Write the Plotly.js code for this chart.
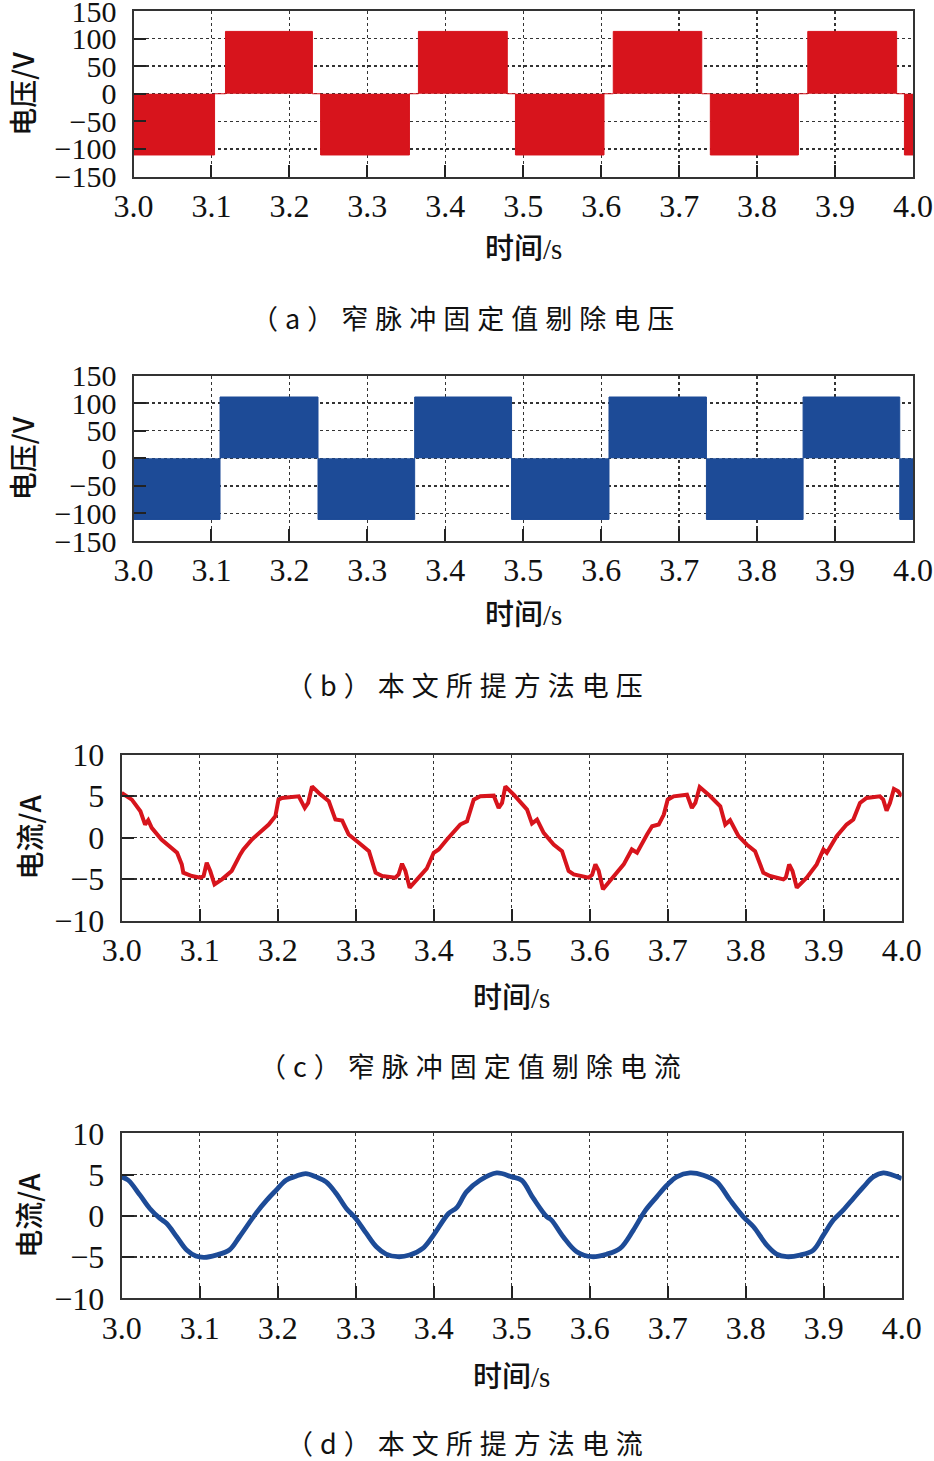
<!DOCTYPE html>
<html>
<head>
<meta charset="utf-8">
<script src="https://cdn.plot.ly/plotly-3.0.1.min.js"></script>
<style>
  html, body { margin: 0; padding: 0; background: #fff; }
  #chart { width: 934px; height: 1461px; }
</style>
</head>
<body>
<div id="chart"></div>
<script>
// (a) switching instants and levels after each switch
var voltA_t = [3.000, 3.104, 3.118, 3.2295, 3.240, 3.354, 3.3655, 3.4795, 3.490, 3.6036,
               3.6155, 3.729, 3.740, 3.853, 3.865, 3.979, 3.989, 4.000];
var voltA_v = [-111, 0, 113, 0, -111, 0, 113, 0, -111, 0,
               113, 0, -111, 0, 113, 0, -111, -111];

// (b)
var voltB_t = [3.000, 3.111, 3.2367, 3.3607, 3.485, 3.610, 3.735, 3.859, 3.983, 4.000];
var voltB_v = [-111, 111, -111, 111, -111, 111, -111, 111, -111, -111];

// (c) current with fixed-value narrow pulse removal
var curC_t = [3.000, 3.013, 3.024, 3.030, 3.034, 3.0385, 3.051, 3.066, 3.071, 3.077,
              3.079, 3.090, 3.1006, 3.105, 3.109, 3.1135, 3.119, 3.1285, 3.141, 3.152,
              3.156, 3.167, 3.180, 3.1885, 3.197, 3.201, 3.2056, 3.227, 3.2347, 3.239,
              3.244, 3.2527, 3.2655, 3.274, 3.2827, 3.291, 3.304, 3.317, 3.3255, 3.334,
              3.351, 3.355, 3.3594, 3.3637, 3.3692, 3.3786, 3.391, 3.400, 3.4064, 3.417,
              3.434, 3.4427, 3.4513, 3.4598, 3.477, 3.4833, 3.4876, 3.4919, 3.5026, 3.5197,
              3.526, 3.5325, 3.541, 3.5538, 3.5645, 3.573, 3.5795, 3.5987, 3.6031, 3.6073,
              3.6115, 3.617, 3.6308, 3.6436, 3.654, 3.6607, 3.6735, 3.680, 3.6885, 3.695,
              3.700, 3.7077, 3.7247, 3.731, 3.7354, 3.741, 3.7546, 3.7674, 3.7738, 3.780,
              3.7908, 3.8013, 3.812, 3.8226, 3.8313, 3.8484, 3.8514, 3.8557, 3.860, 3.8655,
              3.8782, 3.891, 3.8996, 3.904, 3.9166, 3.9294, 3.938, 3.9465, 3.955, 3.972,
              3.9763, 3.9806, 3.9849, 3.990, 3.9955, 4.000];
var curC_v = [5.36, 4.56, 3.16, 1.56, 2.08, 1.16, -0.24, -1.44, -1.84, -3.24,
              -4.24, -4.64, -4.84, -4.64, -3.04, -4.04, -5.64, -5.04, -4.04, -2.04,
              -1.44, -0.24, 0.76, 1.56, 2.56, 4.56, 4.76, 4.96, 3.56, 4.16,
              6.16, 5.36, 4.36, 2.16, 2.04, 0.36, -0.64, -1.64, -4.24, -4.64,
              -4.84, -4.44, -3.16, -4.04, -6.04, -5.04, -3.76, -1.84, -1.44, -0.24,
              1.56, 1.96, 4.56, 4.96, 5.04, 3.56, 4.16, 6.16, 5.16, 3.36,
              1.68, 2.16, 0.56, -0.84, -1.64, -4.04, -4.44, -4.84, -4.5, -3.24,
              -4.0, -6.24, -4.64, -3.24, -1.44, -1.84, 0.36, 1.36, 1.56, 2.76,
              4.56, 4.96, 5.16, 3.56, 4.16, 6.08, 4.96, 3.76, 1.56, 2.08,
              0.16, -0.84, -1.64, -4.24, -4.64, -5.04, -4.84, -3.24, -4.04, -6.04,
              -4.84, -3.24, -1.44, -1.84, 0.16, 1.56, 2.16, 4.16, 4.76, 4.96,
              4.56, 3.24, 4.16, 5.84, 5.56, 4.96];

// (d) current with the proposed method
var curD_t = [3.000, 3.0085, 3.0235, 3.036, 3.049, 3.0577, 3.0705, 3.0833, 3.095, 3.106,
              3.121, 3.138, 3.151, 3.1726, 3.186, 3.198, 3.2107, 3.2235, 3.236, 3.249,
              3.262, 3.275, 3.288, 3.300, 3.3137, 3.3265, 3.339, 3.354, 3.369, 3.386,
              3.3997, 3.419, 3.4295, 3.442, 3.4594, 3.4808, 3.500, 3.5128, 3.5278, 3.5449,
              3.551, 3.566, 3.5833, 3.603, 3.622, 3.639, 3.656, 3.671, 3.686, 3.699,
              3.7115, 3.7286, 3.7457, 3.7628, 3.780, 3.797, 3.810, 3.827, 3.8397, 3.8526,
              3.8697, 3.8868, 3.8996, 3.9124, 3.925, 3.938, 3.951, 3.9637, 3.9765, 3.989,
              4.000];
var curD_v = [4.72, 4.31, 2.5, 0.89, -0.32, -0.93, -2.54, -4.15, -4.88, -5.04,
              -4.76, -4.15, -2.54, 0.36, 1.9, 3.1, 4.31, 4.8, 5.12, 4.72,
              4.11, 2.7, 0.89, -0.32, -2.14, -3.75, -4.64, -4.96, -4.76, -3.95,
              -2.34, 0.28, 1.0, 2.9, 4.31, 5.2, 4.72, 4.31, 2.1, -0.12,
              -0.52, -2.54, -4.35, -4.96, -4.64, -3.95, -1.73, 0.6, 2.3, 3.7,
              4.72, 5.2, 4.92, 4.11, 1.9, -0.12, -1.33, -3.55, -4.64, -4.96,
              -4.76, -4.15, -2.34, -0.52, 0.69, 2.1, 3.5, 4.72, 5.2, 4.92,
              4.51];

var xTickVals = [3.0, 3.1, 3.2, 3.3, 3.4, 3.5, 3.6, 3.7, 3.8, 3.9, 4.0];
var xTickText = ['3.0', '3.1', '3.2', '3.3', '3.4', '3.5', '3.6', '3.7', '3.8', '3.9', '4.0'];
var voltTicks = [-150, -100, -50, 0, 50, 100, 150];
var curTicks = [-10, -5, 0, 5, 10];

var captions = ['（a）窄脉冲固定值剔除电压', '（b）本文所提方法电压',
                '（c）窄脉冲固定值剔除电流', '（d）本文所提方法电流'];
var yTitles = ['电压/V', '电压/V', '电流/A', '电流/A'];

var RED = '#d7141c';
var BLUE = '#1d4b97';
var W = 934, H = 1461;

function xAxis(left, right, anchor) {
  return {
    domain: [left / W, right / W],
    anchor: anchor,
    range: [3, 4],
    tickvals: xTickVals,
    ticktext: xTickText,
    ticks: 'inside', ticklen: 12, tickwidth: 2, tickcolor: '#222',
    ticklabelstandoff: 0,
    ticklabeloverflow: 'allow',
    showline: true, linewidth: 2, linecolor: '#333', mirror: true,
    showgrid: true, gridcolor: '#333', gridwidth: 1.4, griddash: 'dot',
    zeroline: false,
    tickfont: {family: 'Liberation Serif', size: 32, color: '#111'}
  };
}

function yAxis(bottom, top, anchor, rng, vals, fsize) {
  return {
    domain: [1 - bottom / H, 1 - top / H],
    anchor: anchor,
    range: rng,
    tickvals: vals,
    ticks: 'inside', ticklen: 12, tickwidth: 2, tickcolor: '#222',
    ticklabelstandoff: 9,
    ticklabeloverflow: 'allow',
    showline: true, linewidth: 2, linecolor: '#333', mirror: true,
    showgrid: true, gridcolor: '#333', gridwidth: 1.4, griddash: 'dot',
    zeroline: false,
    tickfont: {family: 'Liberation Serif', size: fsize, color: '#111'}
  };
}

var data = [
  {x: voltA_t, y: voltA_v, xaxis: 'x', yaxis: 'y', type: 'scatter', mode: 'lines',
   line: {shape: 'hv', color: RED, width: 1}, fill: 'tozeroy', fillcolor: RED},
  {x: voltB_t, y: voltB_v, xaxis: 'x2', yaxis: 'y2', type: 'scatter', mode: 'lines',
   line: {shape: 'hv', color: BLUE, width: 1}, fill: 'tozeroy', fillcolor: BLUE},
  {x: curC_t, y: curC_v, xaxis: 'x3', yaxis: 'y3', type: 'scatter', mode: 'lines',
   line: {color: RED, width: 4}},
  {x: curD_t, y: curD_v, xaxis: 'x4', yaxis: 'y4', type: 'scatter', mode: 'lines',
   line: {color: BLUE, width: 4.8, shape: 'spline', smoothing: 1}}
];

// plot boxes in pixels: left, right, top, bottom
var boxes = [
  [133.5, 913, 11, 176.5],
  [133.5, 913, 375.5, 541],
  [121.7, 901.7, 754.5, 920.5],
  [121.7, 901.7, 1133.3, 1298.3]
];
var xTitleY = [246, 612, 995, 1374];
var captionY = [317, 684, 1065, 1442];
var captionX = [466, 468, 473, 468];
var yTitleX = [22, 22, 28, 28];

var layout = {
  width: W, height: H,
  margin: {l: 0, r: 0, t: 0, b: 0},
  paper_bgcolor: '#fff', plot_bgcolor: '#fff',
  showlegend: false,
  annotations: []
};

var names = ['', '2', '3', '4'];
for (i = 0; i < boxes.length; i++) {
  var b = boxes[i];
  var yr = i < 2 ? [-150, 150] : [-10, 10];
  var yv = i < 2 ? voltTicks : curTicks;
  var fs = i < 2 ? 30 : 32;
  layout['xaxis' + names[i]] = xAxis(b[0], b[1], 'y' + names[i]);
  layout['yaxis' + names[i]] = yAxis(b[3], b[2], 'x' + names[i], yr, yv, fs);

  // x axis title
  layout.annotations.push({
    xref: 'paper', yref: 'paper',
    x: (b[0] + b[1]) / 2 / W, y: 1 - xTitleY[i] / H,
    xanchor: 'center', yanchor: 'middle', showarrow: false,
    text: '时间<span style="font-family:Liberation Serif">/s</span>',
    font: {family: 'Noto Sans CJK SC', size: 29, color: '#111', weight: 500}
  });
  // y axis title
  layout.annotations.push({
    xref: 'paper', yref: 'paper',
    x: yTitleX[i] / W, y: 1 - (b[2] + b[3]) / 2 / H,
    xanchor: 'center', yanchor: 'middle', showarrow: false, textangle: -90,
    text: yTitles[i],
    font: {family: 'Noto Sans CJK SC', size: 28, color: '#111', weight: 500}
  });
  // caption
  layout.annotations.push({
    xref: 'paper', yref: 'paper',
    x: captionX[i] / W, y: 1 - captionY[i] / H,
    xanchor: 'center', yanchor: 'middle', showarrow: false,
    text: '<span style="letter-spacing:7px">' + captions[i] + '</span>',
    font: {family: 'Noto Sans CJK SC', size: 27, color: '#111', weight: 400}
  });
}

Plotly.newPlot('chart', data, layout, {staticPlot: true});
</script>
</body>
</html>
